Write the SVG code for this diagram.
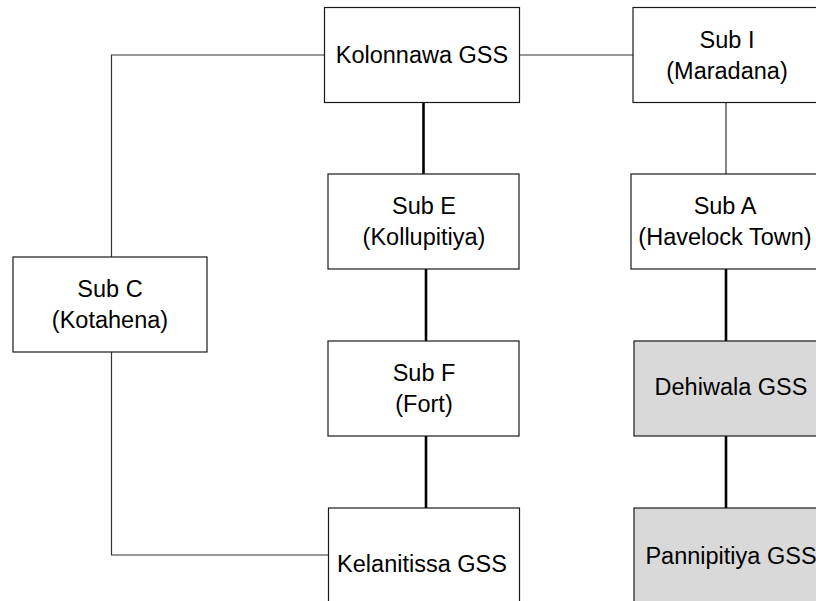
<svg xmlns="http://www.w3.org/2000/svg" width="816" height="601" viewBox="0 0 816 601">
<style>
.box{fill:#fff;stroke:#1a1a1a;stroke-width:1.2}
.grey{fill:#d9d9d9;stroke:#1a1a1a;stroke-width:1.2}
.t{font-family:"Liberation Sans",Arial,sans-serif;font-size:23.5px;fill:#000;text-anchor:middle}
.thin{fill:none;stroke:#333;stroke-width:1.2}
.thick{fill:none;stroke:#000;stroke-width:2.6}
</style>
<rect width="816" height="601" fill="#fff"/>
<g id="connectors">
<path class="thin" d="M324.5,55 H111.5 V257"/>
<path class="thin" d="M111.5,352 V555 H328.5"/>
<path class="thin" d="M519.5,55 H633"/>
<path class="thin" d="M726,102.5 V174"/>
<path class="thick" d="M423.5,102.5 V174"/>
<path class="thick" d="M426,269 V341"/>
<path class="thick" d="M426,436 V508"/>
<path class="thick" d="M726,269 V341"/>
<path class="thick" d="M726,436 V508"/>
</g>
<g id="kolonnawa">
<rect class="box" x="324.5" y="7.5" width="195" height="95"/>
<text class="t" x="422" y="63">Kolonnawa GSS</text>
</g>
<g id="subI">
<rect class="box" x="633" y="7.5" width="192" height="95"/>
<text class="t" x="727" y="48">Sub I</text>
<text class="t" x="727" y="79">(Maradana)</text>
</g>
<g id="subE">
<rect class="box" x="328" y="174" width="191" height="95"/>
<text class="t" x="424" y="214">Sub E</text>
<text class="t" x="424" y="245">(Kollupitiya)</text>
</g>
<g id="subA">
<rect class="box" x="631" y="174" width="194" height="95"/>
<text class="t" x="725" y="214">Sub A</text>
<text class="t" x="725" y="245">(Havelock Town)</text>
</g>
<g id="subC">
<rect class="box" x="13" y="257" width="194" height="95"/>
<text class="t" x="110" y="297">Sub C</text>
<text class="t" x="110" y="328">(Kotahena)</text>
</g>
<g id="subF">
<rect class="box" x="328" y="341" width="191" height="95"/>
<text class="t" x="424" y="381">Sub F</text>
<text class="t" x="424" y="412">(Fort)</text>
</g>
<g id="dehiwala">
<rect class="grey" x="634" y="341" width="194" height="95"/>
<text class="t" x="731" y="395">Dehiwala GSS</text>
</g>
<g id="kelanitissa">
<rect class="box" x="328.5" y="508" width="191" height="110"/>
<text class="t" x="422" y="572">Kelanitissa GSS</text>
</g>
<g id="pannipitiya">
<rect class="grey" x="634" y="508" width="194" height="100"/>
<text class="t" x="731" y="564">Pannipitiya GSS</text>
</g>
</svg>
